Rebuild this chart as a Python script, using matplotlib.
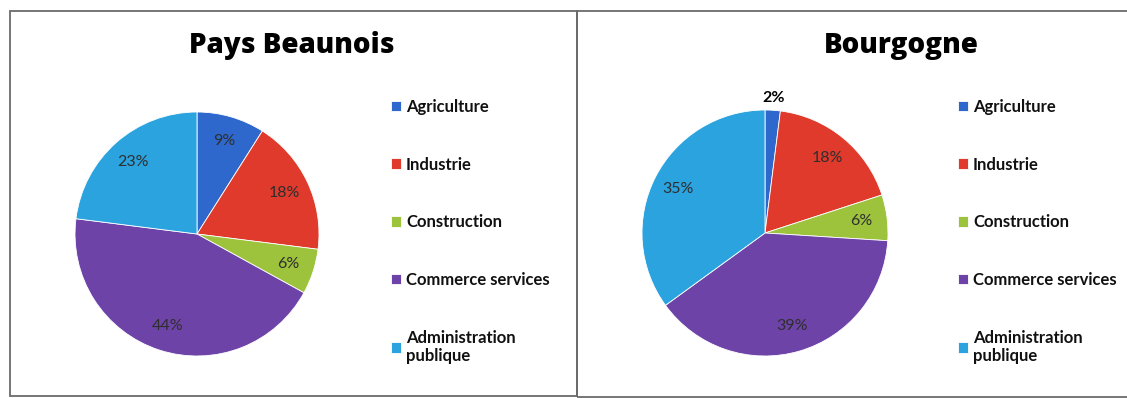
import matplotlib
matplotlib.use("Agg")
import matplotlib.pyplot as plt
from matplotlib.patches import Rectangle
import numpy as np

plt.rcParams['font.family'] = ['Lato', 'DejaVu Sans']

categories = ["Agriculture", "Industrie", "Construction",
              "Commerce services", "Administration\npublique"]
beaunois = [9, 18, 6, 44, 23]
bourgogne = [2, 18, 6, 39, 35]
titles = ["Pays Beaunois", "Bourgogne"]
colors = ["#2f68cc", "#e03a2c", "#9dc23c", "#6e43a8", "#2aa3df"]

W, H = 1127, 398
fig = plt.figure(figsize=(W / 100, H / 100), dpi=100)
fig.patch.set_facecolor("white")


def px_box(x0, y0, w, h):
    """Figure-fraction rectangle from pixel coords measured from the top-left."""
    return [x0 / W, 1 - (y0 + h) / H, w / W, h / H]


# panel frames
frame_kw = dict(transform=fig.transFigure, fill=False, edgecolor="#6b6b6b",
                linewidth=1.3)
fig.patches.append(Rectangle((10 / W, 1 - 396 / H), 567 / W, 385 / H, **frame_kw))
fig.patches.append(Rectangle((577 / W, 1 - 397 / H), 560 / W, 386 / H, **frame_kw))

panels = [
    dict(values=beaunois, title=titles[0], cx=197, cy=234, r=122,
         title_x=292, legend_x=391),
    dict(values=bourgogne, title=titles[1], cx=765, cy=233, r=123,
         title_x=901, legend_x=958),
]

for p in panels:
    ax = fig.add_axes(px_box(p["cx"] - p["r"], p["cy"] - p["r"], 2 * p["r"], 2 * p["r"]))
    wedges, _ = ax.pie(p["values"], colors=colors, startangle=90, counterclock=False,
                       radius=1, wedgeprops=dict(edgecolor="white", linewidth=0.6))
    ax.set_xlim(-1, 1)
    ax.set_ylim(-1, 1)
    ax.set_aspect("equal")
    ax.axis("off")

    # percentage labels inside each slice; very small slices get theirs outside
    for w, v in zip(wedges, p["values"]):
        mid = np.deg2rad((w.theta1 + w.theta2) / 2)
        if v < 4:
            d, col, fw = 1.1, "black", "bold"
        else:
            d, col, fw = 0.79, "#2e2e2e", "normal"
        ax.text(d * np.cos(mid), d * np.sin(mid), f"{v}%", ha="center", va="center",
                fontsize=11.5, color=col, fontweight=fw)

    fig.text(p["title_x"] / W, 1 - 46 / H, p["title"], ha="center", va="center",
             fontsize=20, fontweight=800, color="black", family="Open Sans")

    leg = ax.legend(wedges, categories, loc="upper left",
                    bbox_to_anchor=(p["legend_x"] / W, 1 - 99 / H),
                    bbox_transform=fig.transFigure, frameon=False,
                    fontsize=12, labelspacing=2.5, handlelength=0.6,
                    handleheight=0.6, handletextpad=0.3, borderpad=0,
                    borderaxespad=0)
    for t in leg.get_texts():
        t.set_fontweight("bold")
        t.set_color("#111111")

fig.savefig("out.png", dpi=100, facecolor="white")
